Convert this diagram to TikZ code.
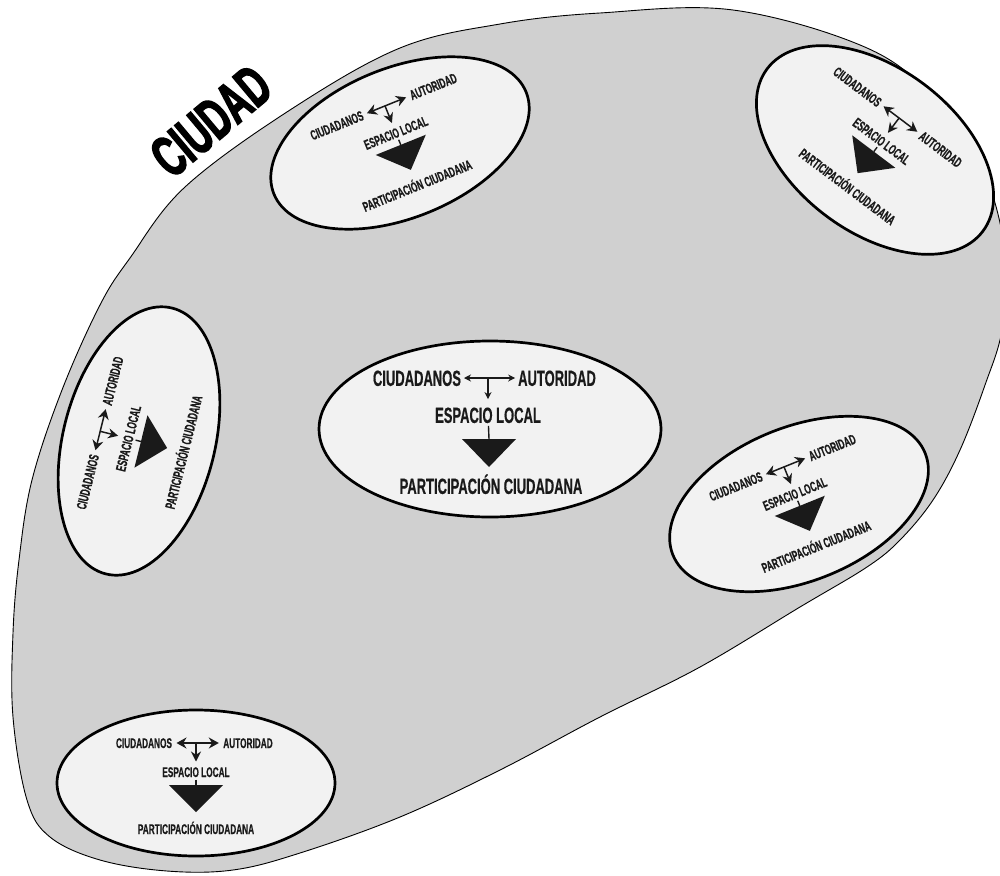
\documentclass[tikz,border=0pt]{standalone}
\usepackage{fontspec}
\newfontfamily\bebas[FakeStretch=0.59,FakeBold=0.5]{Liberation Sans Bold}
\newfontfamily\titlefont[FakeStretch=0.6,FakeBold=2.5]{Liberation Sans Bold}
\usetikzlibrary{arrows.meta}
\definecolor{blobgray}{RGB}{208,208,208}
\definecolor{cellfill}{RGB}{242,242,242}
\definecolor{ink}{RGB}{26,26,26}
\tikzset{
  blob/.style={fill=blobgray, draw=black, line width=0.9pt},
  cellell/.style={fill=cellfill, draw=black, line width=2.7pt},
  bigtxt/.style={font=\bebas\fontsize{22}{22}\selectfont, text=ink, inner sep=0pt, outer sep=3pt, text height=15.8pt, text depth=0pt},
  smalltxt/.style={font=\bebas\fontsize{14}{14}\selectfont, text=ink, inner sep=0pt, outer sep=2.5pt, text height=10pt, text depth=0pt},
  bigdbl/.style={draw=ink, line width=1.1pt, >={Stealth[length=7pt,width=7pt]}, <->},
  bigdown/.style={draw=ink, line width=1.1pt, >={Stealth[length=7pt,width=7pt]}, ->, shorten >=5pt},
  smalldbl/.style={draw=ink, line width=1.5pt, >={Stealth[length=10pt,width=11pt]}, <->, shorten <=2pt, shorten >=2pt},
  smalldown/.style={draw=ink, line width=1.5pt, >={Stealth[length=10pt,width=10pt]}, ->, shorten >=3pt},
  stem/.style={draw=ink, line width=1.4pt},
  tri/.style={fill=ink},
  titletxt/.style={font=\titlefont\fontsize{58}{58}\selectfont, text=black, inner sep=0pt}
}
\newcommand{\bigcell}[6]{%
\begin{scope}[shift={(#2,#3)}, rotate=#4, transform shape]
  \draw[cellell] (0,0) ellipse [x radius=#5, y radius=#6];
  \node[bigtxt] (#1-c) at (-73,-51) {CIUDADANOS};
  \node[bigtxt] (#1-a) at (67,-51) {AUTORIDAD};
  \coordinate (#1-m) at (-2,-51);
  \node[bigtxt] (#1-e) at (-2,-14) {ESPACIO LOCAL};
  \coordinate (#1-t) at (-1,10);
  \node[bigtxt] (#1-p) at (1,57) {PARTICIPACIÓN CIUDADANA};
  \draw[bigdbl] (#1-c) -- (#1-a);
  \draw[bigdown] (#1-m) -- (#1-e);
  \draw[stem] (#1-e) -- (#1-t);
  \fill[tri] (-28,10) -- (26,10) -- (-1,38) -- cycle;
\end{scope}}
\newcommand{\smallcell}[6]{%
\begin{scope}[shift={(#2,#3)}, rotate=#4, transform shape]
  \draw[cellell] (0,0) ellipse [x radius=#5, y radius=#6];
  \node[smalltxt] (#1-c) at (-52,-40) {CIUDADANOS};
  \node[smalltxt] (#1-a) at (52,-40) {AUTORIDAD};
  \coordinate (#1-m) at (0,-40);
  \node[smalltxt] (#1-e) at (0,-11) {ESPACIO LOCAL};
  \coordinate (#1-t) at (0,2);
  \node[smalltxt] (#1-p) at (0,46) {PARTICIPACIÓN CIUDADANA};
  \draw[smalldbl] (#1-c) -- (#1-a);
  \draw[smalldown] (#1-m) -- (#1-e);
  \draw[stem] (#1-e) -- (#1-t);
  \fill[tri] (-27,2) -- (27,2) -- (0,29) -- cycle;
\end{scope}}
\begin{document}
\begin{tikzpicture}[x=1pt,y=-1pt]
\useasboundingbox (0,0) rectangle (1000,875);
\clip (0,0) rectangle (1000,875);
\fill[white] (0,0) rectangle (1000,875);
\path[blob] plot[smooth cycle, tension=0.6] coordinates {
  (185,187) (290,110) (400,48) (500,24) (600,13) (733,10) (867,48) (935,100)
  (985,175) (1006,260) (1002,330) (985,385) (960,450) (933,500) (900,540) (867,567) (800,607)
  (700,667) (600,717) (500,770) (400,817) (300,853) (233,870) (167,871)
  (100,860) (50,837) (27,800) (13,717) (13,633) (19,560) (32,480) (62,390)
  (100,305) (130,258)};
\node[titletxt, rotate=40] (title) at (211,121) {CIUDAD};
\bigcell{m}{490}{429}{0}{171}{88}
\smallcell{tc}{400}{143}{22}{136}{75}
\smallcell{tr}{875}{150}{-37}{135}{82}
\smallcell{lf}{139}{441}{76}{137}{76}
\smallcell{rm}{799}{504}{22}{136}{77}
\smallcell{bl}{196}{783}{0}{139}{73}
\end{tikzpicture}
\end{document}
